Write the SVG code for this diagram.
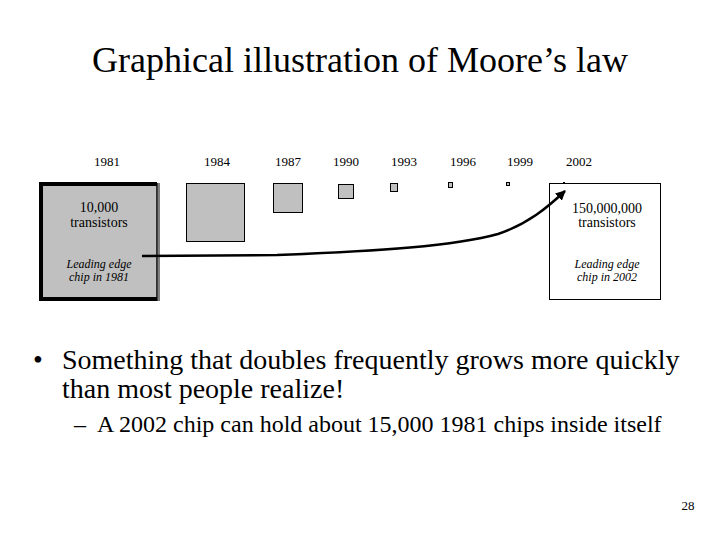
<svg xmlns="http://www.w3.org/2000/svg" width="720" height="540" viewBox="0 0 720 540">
<style>
text{font-family:"Liberation Serif","Times New Roman",serif;fill:#000}
.yr{font-size:13px;text-anchor:middle}
.bx{font-size:14px;text-anchor:middle}
.it{font-size:12px;font-style:italic;text-anchor:middle}
.chip{fill:#c0c0c0;stroke:#000;stroke-width:1}
</style>
<defs>
<marker id="ah" viewBox="0 0 10 10" refX="9" refY="5" markerWidth="4" markerHeight="4" orient="auto" markerUnits="strokeWidth">
<path d="M0,0 L10,5 L0,10 Z" fill="#000"/>
</marker>
</defs>
<rect width="720" height="540" fill="#fff"/>
<text x="360" y="72" style="font-size:36px;text-anchor:middle">Graphical illustration of Moore’s law</text>

<g id="years">
<text class="yr" x="107" y="166">1981</text>
<text class="yr" x="217" y="166">1984</text>
<text class="yr" x="288" y="166">1987</text>
<text class="yr" x="346" y="166">1990</text>
<text class="yr" x="404" y="166">1993</text>
<text class="yr" x="463" y="166">1996</text>
<text class="yr" x="520" y="166">1999</text>
<text class="yr" x="579" y="166">2002</text>
</g>

<g id="chip1981">
<rect x="41" y="184" width="116" height="115" fill="#c0c0c0"/>
<path d="M157,184 H41 V299 H157" fill="none" stroke="#000" stroke-width="4"/>
<line x1="157" y1="183" x2="157" y2="301" stroke="#000" stroke-width="1.5"/>
<line x1="159" y1="183" x2="159" y2="301" stroke="#000" stroke-width="1"/>
<text class="bx" x="99" y="212">10,000</text>
<text class="bx" x="99" y="227">transistors</text>
<text class="it" x="99" y="268">Leading edge</text>
<text class="it" x="99" y="281">chip in 1981</text>
</g>

<g id="chip1984"><rect class="chip" x="186.5" y="183.5" width="58" height="58"/></g>
<g id="chip1987"><rect class="chip" x="273.5" y="183.5" width="29" height="29"/></g>
<g id="chip1990"><rect class="chip" x="338.5" y="184.5" width="15" height="14"/></g>
<g id="chip1993"><rect class="chip" x="390.5" y="183.5" width="7" height="8"/></g>
<g id="chip1996"><rect class="chip" x="448.5" y="182.5" width="4" height="5"/></g>
<g id="chip1999"><rect class="chip" x="506.5" y="182.5" width="3" height="3"/></g>

<g id="chip2002">
<rect x="563" y="182" width="2" height="2" fill="#000"/>
<rect x="549.5" y="183.5" width="111" height="116" fill="#fff" stroke="#000" stroke-width="1"/>
<text class="bx" x="607" y="213">150,000,000</text>
<text class="bx" x="607" y="227">transistors</text>
<text class="it" x="607" y="268">Leading edge</text>
<text class="it" x="607" y="281">chip in 2002</text>
</g>

<g id="connectors">
<path d="M142,256 L277,255 C380,251 455,246 498,234 C528,224 548,207 565,191" fill="none" stroke="#000" stroke-width="2.5" marker-end="url(#ah)"/>
</g>

<g id="bullets">
<text x="33" y="369" style="font-size:28px">•</text>
<text x="62" y="369" style="font-size:28px">Something that doubles frequently grows more quickly</text>
<text x="62" y="398" style="font-size:28px">than most people realize!</text>
<text x="74" y="432" style="font-size:24px">–</text>
<text x="97" y="432" style="font-size:24px">A 2002 chip can hold about 15,000 1981 chips inside itself</text>
</g>
<text x="688" y="510" style="font-size:13px;text-anchor:middle">28</text>
</svg>
